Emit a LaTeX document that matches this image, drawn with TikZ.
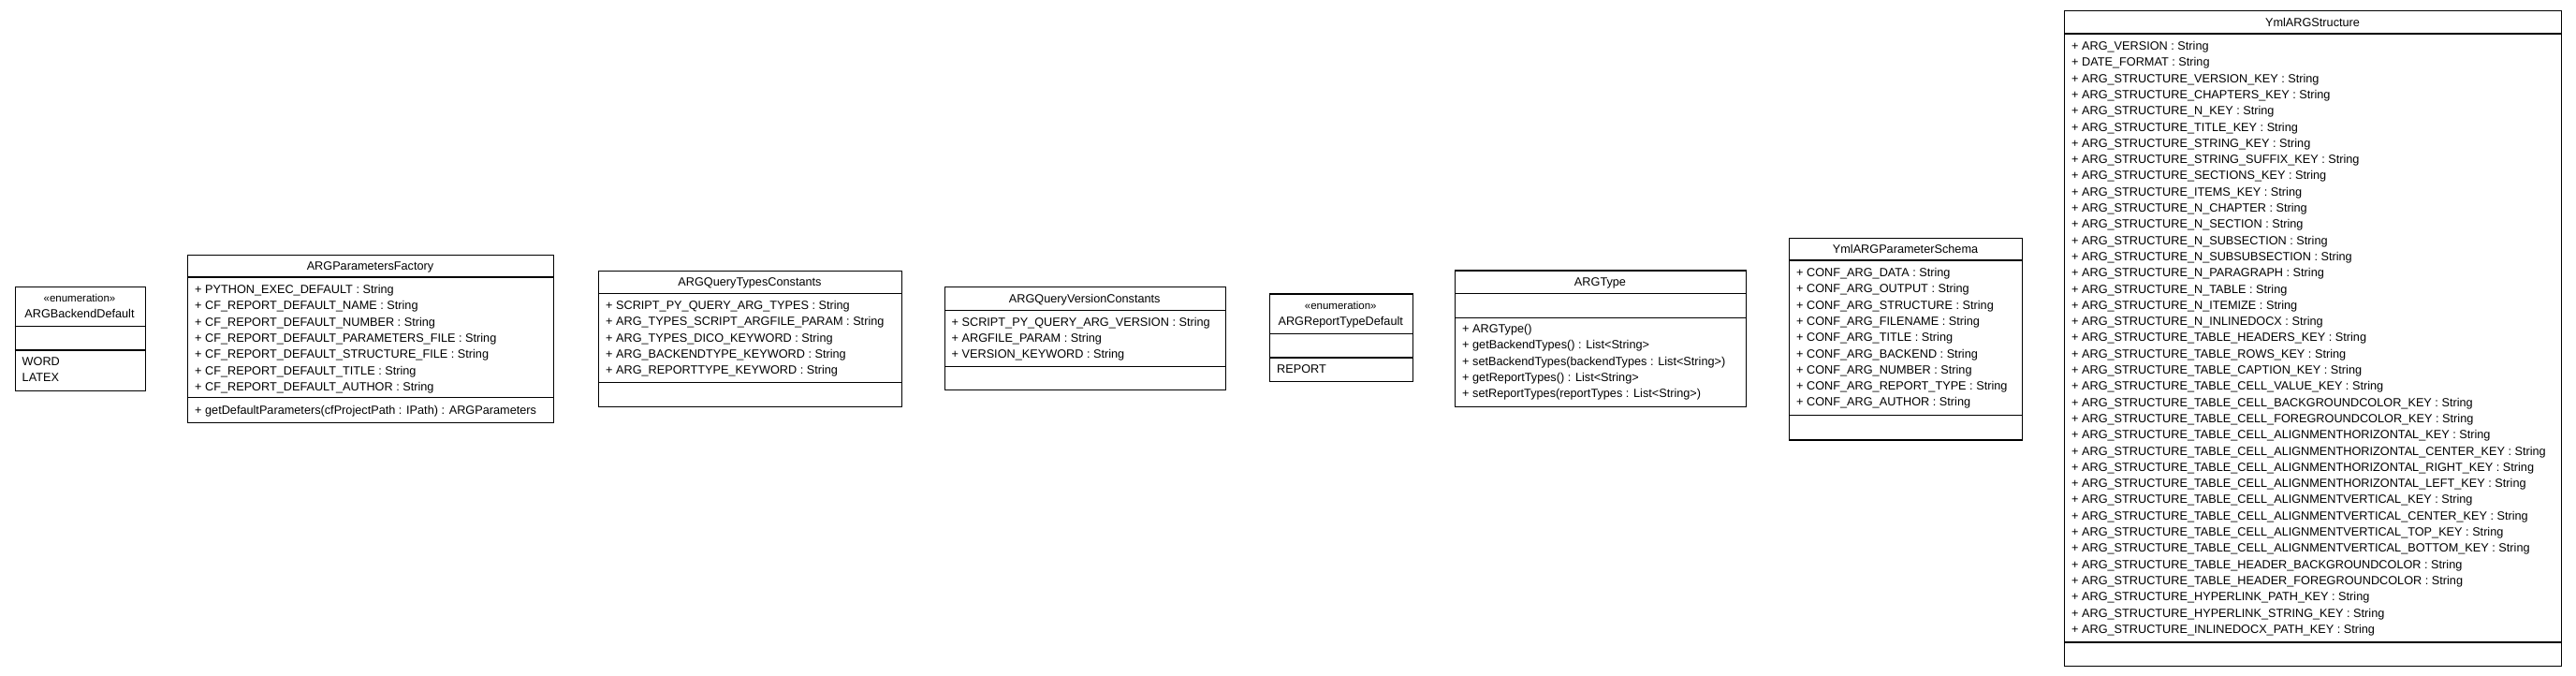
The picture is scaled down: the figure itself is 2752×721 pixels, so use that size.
\documentclass[tikz,border=0pt]{standalone}
\usepackage{fontspec}
\setmainfont{Liberation Sans}
\begin{document}
\begin{tikzpicture}[x=1pt,y=-1pt,
  box/.style={draw=black,line width=1.2pt,fill=white,inner sep=0pt,anchor=north west},
  div/.style={draw=black,line width=1.4pt},
  row/.style={anchor=base west,inner sep=0pt,font=\fontsize{12.7}{15}\selectfont},
  title/.style={anchor=base,inner sep=0pt,font=\fontsize{12.7}{15}\selectfont},
  stereo/.style={anchor=base,inner sep=0pt,font=\fontsize{11.5}{13}\selectfont}]
\useasboundingbox[fill=white] (0,0) rectangle (2752,721);

% ---------- ARGBackendDefault
\node[box,minimum width=139pt,minimum height=111pt] (b1) at (15.5,306) {};
\draw[div] (b1.west |- 0,348.5) -- (b1.east |- 0,348.5);
\draw[div] (b1.west |- 0,374) -- (b1.east |- 0,374);
\node[stereo] (b1s) at (85,322) {«enumeration»};
\node[title] (b1t) at (85,339.5) {ARGBackendDefault};
\foreach \t [count=\i] in {{WORD},{LATEX}}
  \node[row] (b1r\i) at (23.5,{386+(\i-1)*17.3+4.5}) {\t};

% ---------- ARGParametersFactory
\node[box,minimum width=391pt,minimum height=179pt] (b2) at (200,272) {};
\draw[div] (b2.west |- 0,296) -- (b2.east |- 0,296);
\draw[div] (b2.west |- 0,424.5) -- (b2.east |- 0,424.5);
\node[title] (b2t) at (395.5,288.5) {ARGParametersFactory};
\foreach \t [count=\i] in {
  {+ PYTHON\_EXEC\_DEFAULT : String},
  {+ CF\_REPORT\_DEFAULT\_NAME : String},
  {+ CF\_REPORT\_DEFAULT\_NUMBER : String},
  {+ CF\_REPORT\_DEFAULT\_PARAMETERS\_FILE : String},
  {+ CF\_REPORT\_DEFAULT\_STRUCTURE\_FILE : String},
  {+ CF\_REPORT\_DEFAULT\_TITLE : String},
  {+ CF\_REPORT\_DEFAULT\_AUTHOR : String}}
  \node[row] (b2r\i) at (208,{309+(\i-1)*17.3+4.5}) {\t};
\node[row] (b2m1) at (208,{438+4.5}) {+ getDefaultParameters(cfProjectPath : IPath) : ARGParameters};

% ---------- ARGQueryTypesConstants
\node[box,minimum width=324pt,minimum height=145pt] (b3) at (639,288.5) {};
\draw[div] (b3.west |- 0,313.5) -- (b3.east |- 0,313.5);
\draw[div] (b3.west |- 0,408.5) -- (b3.east |- 0,408.5);
\node[title] (b3t) at (801,305.5) {ARGQueryTypesConstants};
\foreach \t [count=\i] in {
  {+ SCRIPT\_PY\_QUERY\_ARG\_TYPES : String},
  {+ ARG\_TYPES\_SCRIPT\_ARGFILE\_PARAM : String},
  {+ ARG\_TYPES\_DICO\_KEYWORD : String},
  {+ ARG\_BACKENDTYPE\_KEYWORD : String},
  {+ ARG\_REPORTTYPE\_KEYWORD : String}}
  \node[row] (b3r\i) at (647,{326+(\i-1)*17.3+4.5}) {\t};

% ---------- ARGQueryVersionConstants
\node[box,minimum width=300.5pt,minimum height=110pt] (b4) at (1008.5,306) {};
\draw[div] (b4.west |- 0,331.7) -- (b4.east |- 0,331.7);
\draw[div] (b4.west |- 0,391.7) -- (b4.east |- 0,391.7);
\node[title] (b4t) at (1158.75,323.5) {ARGQueryVersionConstants};
\foreach \t [count=\i] in {
  {+ SCRIPT\_PY\_QUERY\_ARG\_VERSION : String},
  {+ ARGFILE\_PARAM : String},
  {+ VERSION\_KEYWORD : String}}
  \node[row] (b4r\i) at (1016.5,{343.5+(\i-1)*17.3+4.5}) {\t};

% ---------- ARGReportTypeDefault
\node[box,minimum width=152.5pt,minimum height=93.7pt] (b5) at (1356,313.3) {};
\draw[div] (b5.west |- 0,356.5) -- (b5.east |- 0,356.5);
\draw[div] (b5.west |- 0,382) -- (b5.east |- 0,382);
\node[stereo] (b5s) at (1432.25,330) {«enumeration»};
\node[title] (b5t) at (1432.25,347.2) {ARGReportTypeDefault};
\node[row] (b5r1) at (1364,{393.5+4.5}) {REPORT};

% ---------- ARGType
\node[box,minimum width=311pt,minimum height=145.7pt] (b6) at (1554,288.3) {};
\draw[div] (b6.west |- 0,313.3) -- (b6.east |- 0,313.3);
\draw[div] (b6.west |- 0,339.3) -- (b6.east |- 0,339.3);
\node[title] (b6t) at (1709.5,305.3) {ARGType};
\foreach \t [count=\i] in {
  {+ ARGType()},
  {+ getBackendTypes() : List<String>},
  {+ setBackendTypes(backendTypes : List<String>)},
  {+ getReportTypes() : List<String>},
  {+ setReportTypes(reportTypes : List<String>)}}
  \node[row] (b6r\i) at (1562,{351+(\i-1)*17.3+4.5}) {\t};

% ---------- YmlARGParameterSchema
\node[box,minimum width=249pt,minimum height=215.3pt] (b7) at (1911,254) {};
\draw[div] (b7.west |- 0,278) -- (b7.east |- 0,278);
\draw[div] (b7.west |- 0,443.3) -- (b7.east |- 0,443.3);
\node[title] (b7t) at (2035.5,270.5) {YmlARGParameterSchema};
\foreach \t [count=\i] in {
  {+ CONF\_ARG\_DATA : String},
  {+ CONF\_ARG\_OUTPUT : String},
  {+ CONF\_ARG\_STRUCTURE : String},
  {+ CONF\_ARG\_FILENAME : String},
  {+ CONF\_ARG\_TITLE : String},
  {+ CONF\_ARG\_BACKEND : String},
  {+ CONF\_ARG\_NUMBER : String},
  {+ CONF\_ARG\_REPORT\_TYPE : String},
  {+ CONF\_ARG\_AUTHOR : String}}
  \node[row] (b7r\i) at (1919,{291+(\i-1)*17.3+4.5}) {\t};

% ---------- YmlARGStructure
\node[box,minimum width=531pt,minimum height=700pt] (b8) at (2205,11) {};
\draw[div] (b8.west |- 0,36) -- (b8.east |- 0,36);
\draw[div] (b8.west |- 0,686) -- (b8.east |- 0,686);
\node[title] (b8t) at (2470.5,28) {YmlARGStructure};
\foreach \t [count=\i] in {
  {+ ARG\_VERSION : String},
  {+ DATE\_FORMAT : String},
  {+ ARG\_STRUCTURE\_VERSION\_KEY : String},
  {+ ARG\_STRUCTURE\_CHAPTERS\_KEY : String},
  {+ ARG\_STRUCTURE\_N\_KEY : String},
  {+ ARG\_STRUCTURE\_TITLE\_KEY : String},
  {+ ARG\_STRUCTURE\_STRING\_KEY : String},
  {+ ARG\_STRUCTURE\_STRING\_SUFFIX\_KEY : String},
  {+ ARG\_STRUCTURE\_SECTIONS\_KEY : String},
  {+ ARG\_STRUCTURE\_ITEMS\_KEY : String},
  {+ ARG\_STRUCTURE\_N\_CHAPTER : String},
  {+ ARG\_STRUCTURE\_N\_SECTION : String},
  {+ ARG\_STRUCTURE\_N\_SUBSECTION : String},
  {+ ARG\_STRUCTURE\_N\_SUBSUBSECTION : String},
  {+ ARG\_STRUCTURE\_N\_PARAGRAPH : String},
  {+ ARG\_STRUCTURE\_N\_TABLE : String},
  {+ ARG\_STRUCTURE\_N\_ITEMIZE : String},
  {+ ARG\_STRUCTURE\_N\_INLINEDOCX : String},
  {+ ARG\_STRUCTURE\_TABLE\_HEADERS\_KEY : String},
  {+ ARG\_STRUCTURE\_TABLE\_ROWS\_KEY : String},
  {+ ARG\_STRUCTURE\_TABLE\_CAPTION\_KEY : String},
  {+ ARG\_STRUCTURE\_TABLE\_CELL\_VALUE\_KEY : String},
  {+ ARG\_STRUCTURE\_TABLE\_CELL\_BACKGROUNDCOLOR\_KEY : String},
  {+ ARG\_STRUCTURE\_TABLE\_CELL\_FOREGROUNDCOLOR\_KEY : String},
  {+ ARG\_STRUCTURE\_TABLE\_CELL\_ALIGNMENTHORIZONTAL\_KEY : String},
  {+ ARG\_STRUCTURE\_TABLE\_CELL\_ALIGNMENTHORIZONTAL\_CENTER\_KEY : String},
  {+ ARG\_STRUCTURE\_TABLE\_CELL\_ALIGNMENTHORIZONTAL\_RIGHT\_KEY : String},
  {+ ARG\_STRUCTURE\_TABLE\_CELL\_ALIGNMENTHORIZONTAL\_LEFT\_KEY : String},
  {+ ARG\_STRUCTURE\_TABLE\_CELL\_ALIGNMENTVERTICAL\_KEY : String},
  {+ ARG\_STRUCTURE\_TABLE\_CELL\_ALIGNMENTVERTICAL\_CENTER\_KEY : String},
  {+ ARG\_STRUCTURE\_TABLE\_CELL\_ALIGNMENTVERTICAL\_TOP\_KEY : String},
  {+ ARG\_STRUCTURE\_TABLE\_CELL\_ALIGNMENTVERTICAL\_BOTTOM\_KEY : String},
  {+ ARG\_STRUCTURE\_TABLE\_HEADER\_BACKGROUNDCOLOR : String},
  {+ ARG\_STRUCTURE\_TABLE\_HEADER\_FOREGROUNDCOLOR : String},
  {+ ARG\_STRUCTURE\_HYPERLINK\_PATH\_KEY : String},
  {+ ARG\_STRUCTURE\_HYPERLINK\_STRING\_KEY : String},
  {+ ARG\_STRUCTURE\_INLINEDOCX\_PATH\_KEY : String}}
  \node[row] (b8r\i) at (2213,{49+(\i-1)*17.3+4.5}) {\t};
\end{tikzpicture}
\end{document}
